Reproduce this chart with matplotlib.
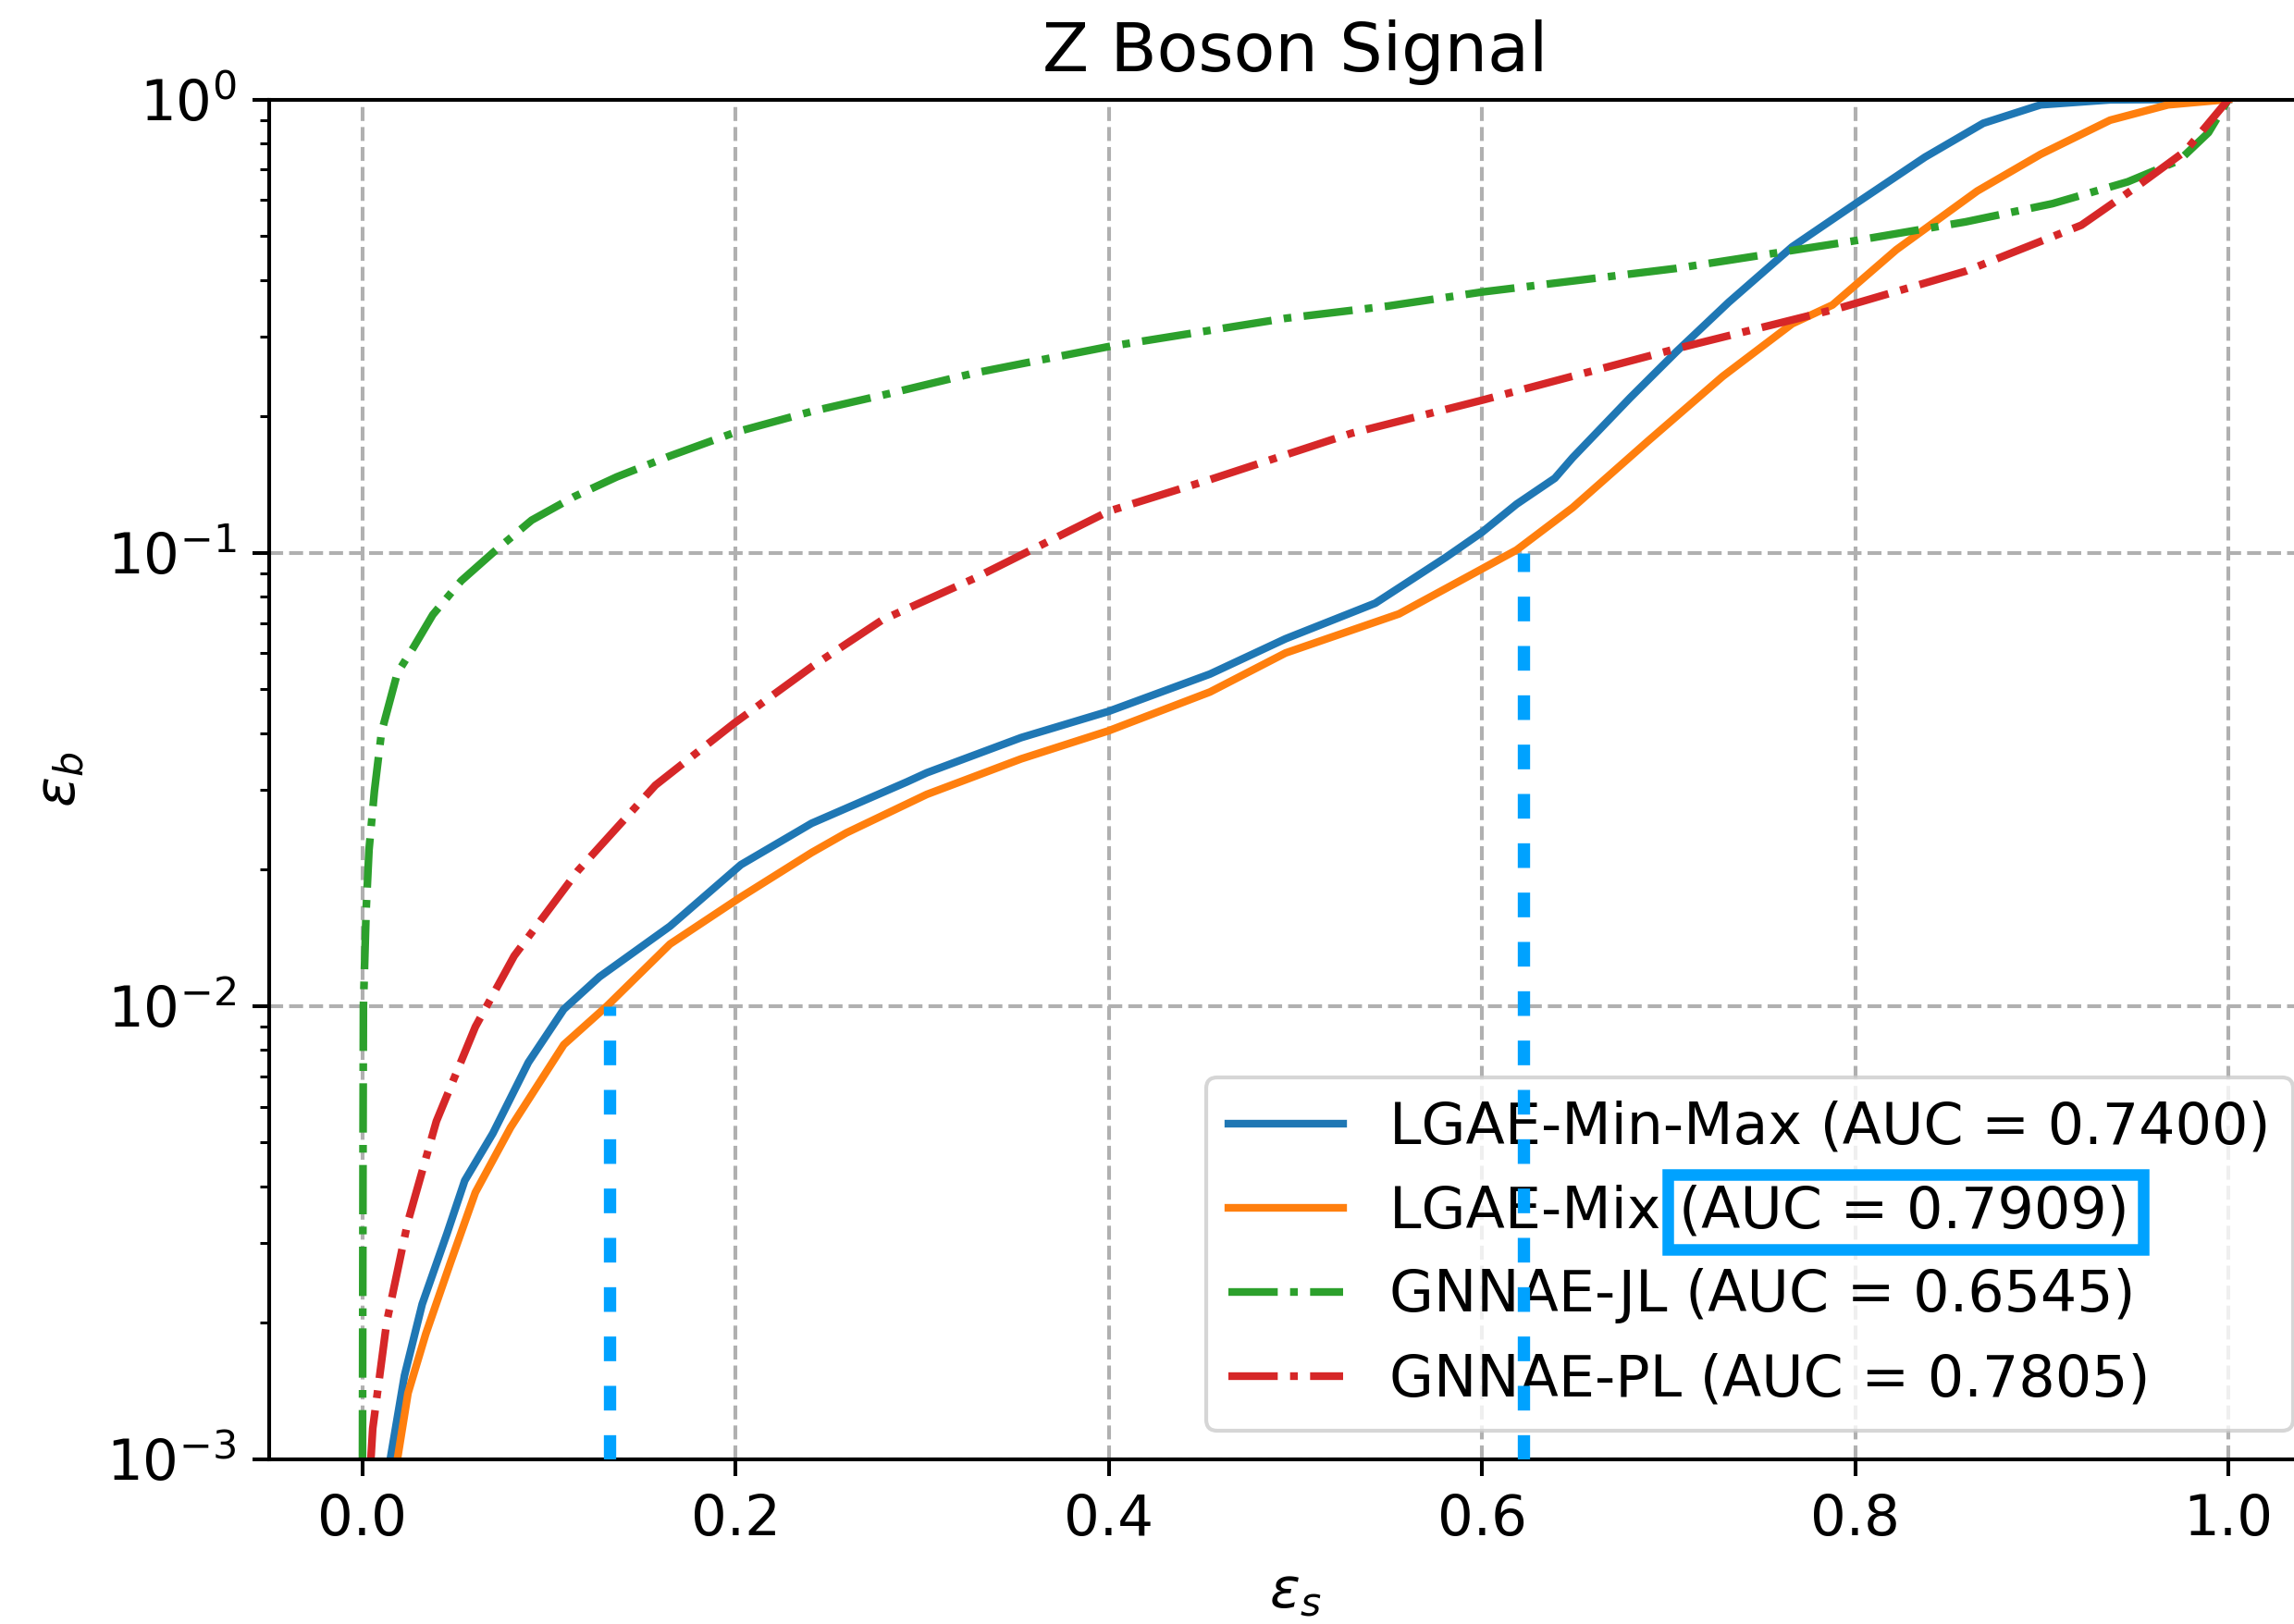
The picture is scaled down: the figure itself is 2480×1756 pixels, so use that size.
import matplotlib
matplotlib.use("Agg")
import matplotlib.pyplot as plt
from matplotlib.patches import Rectangle

# ---------------- data ----------------
minmax_x = [0.0149, 0.0225, 0.032, 0.0453, 0.0548, 0.0699, 0.0889, 0.1079, 0.127,
            0.1648, 0.2028, 0.2407, 0.2916, 0.3024, 0.353, 0.4, 0.4542, 0.4947,
            0.5428, 0.5806, 0.6, 0.6185, 0.639, 0.6485, 0.6795, 0.7043, 0.7322,
            0.7662, 0.8002, 0.8374, 0.8686, 0.8994, 0.9366, 0.97, 1.0]
minmax_y = [0.001, 0.00153, 0.0022, 0.00315, 0.00412, 0.00524, 0.00751, 0.00984, 0.0116,
            0.015, 0.0205, 0.0253, 0.0312, 0.0327, 0.0391, 0.0447, 0.054, 0.0646,
            0.0774, 0.0977, 0.111, 0.128, 0.146, 0.162, 0.22, 0.278, 0.357,
            0.473, 0.589, 0.746, 0.886, 0.973, 0.998, 1.0, 1.0]

mix_x = [0.0187, 0.0244, 0.0339, 0.0472, 0.0605, 0.0794, 0.1079, 0.131, 0.1648,
         0.2028, 0.2407, 0.2593, 0.3024, 0.353, 0.4, 0.4542, 0.4947, 0.5555,
         0.5904, 0.6185, 0.6485, 0.6887, 0.729, 0.7662, 0.7878, 0.822, 0.8654,
         0.8994, 0.9366, 0.9677, 1.0]
mix_y = [0.001, 0.0014, 0.00189, 0.00272, 0.00388, 0.0054, 0.00822, 0.01, 0.0137,
         0.0174, 0.0218, 0.0241, 0.0293, 0.0351, 0.0405, 0.0493, 0.0601, 0.0733,
         0.0877, 0.1014, 0.1257, 0.176, 0.245, 0.32, 0.352, 0.466, 0.628,
         0.757, 0.9, 0.973, 1.0]

jl_x = [0.0, 0.0003, 0.0005, 0.002, 0.0035, 0.0064, 0.0102, 0.0187, 0.0273, 0.0377,
        0.0529, 0.0699, 0.0907, 0.1135, 0.1363, 0.1648, 0.2, 0.2407, 0.2824,
        0.3277, 0.4, 0.4947, 0.5493, 0.6, 0.7043, 0.8, 0.8592, 0.9057, 0.946,
        0.9737, 0.9893, 1.0]
jl_y = [0.001, 0.005, 0.01, 0.0164, 0.0221, 0.0298, 0.0402, 0.0543, 0.0618, 0.073,
        0.0867, 0.1, 0.118, 0.133, 0.147, 0.1635, 0.1845, 0.205, 0.2245,
        0.249, 0.285, 0.329, 0.35, 0.376, 0.424, 0.488, 0.537, 0.589, 0.658,
        0.734, 0.845, 1.0]

pl_x = [0.0045, 0.0055, 0.013, 0.0243, 0.0396, 0.0605, 0.0813, 0.1155, 0.157,
        0.199, 0.2407, 0.2786, 0.3277, 0.4, 0.4542, 0.5299, 0.6, 0.7043, 0.791,
        0.8592, 0.9212, 0.9522, 0.977, 1.0]
pl_y = [0.001, 0.00117, 0.00201, 0.00334, 0.00557, 0.009, 0.0129, 0.0199, 0.0307,
        0.042, 0.056, 0.0711, 0.0877, 0.1235, 0.145, 0.1834, 0.217, 0.282, 0.346,
        0.418, 0.528, 0.648, 0.77, 1.0]

labels = ["LGAE-Min-Max (AUC = 0.7400)", "LGAE-Mix (AUC = 0.7909)",
          "GNNAE-JL (AUC = 0.6545)", "GNNAE-PL (AUC = 0.7805)"]

# working points marked with vertical lines (signal eff., background eff.)
mark_x = [0.1325, 0.622]
mark_y = [0.01, 0.1]

# ---------------- style ----------------
s = 1.2226
plt.rcParams.update({
    "font.size": 12 * s,
    "axes.titlesize": 14.4 * s,
    "axes.labelsize": 12 * s,
    "legend.fontsize": 12.15 * s,
    "xtick.labelsize": 12 * s,
    "ytick.labelsize": 12 * s,
    "axes.linewidth": 0.8 * s,
    "xtick.major.size": 3.5 * s, "ytick.major.size": 3.5 * s,
    "xtick.minor.size": 2 * s, "ytick.minor.size": 2 * s,
    "xtick.major.width": 0.8 * s, "ytick.major.width": 0.8 * s,
    "xtick.minor.width": 0.6 * s, "ytick.minor.width": 0.6 * s,
    "xtick.major.pad": 3.5 * s, "ytick.major.pad": 3.5 * s,
    "grid.linewidth": 0.8 * s,
    "axes.labelpad": 4 * s,
    "axes.titlepad": 6 * s,
})

W, H = 2480, 1756
fig = plt.figure(figsize=(W / 300, H / 300), dpi=300)
ax = fig.add_axes([291 / W, 1 - 1578 / H, 2219 / W, (1578 - 107.5) / H])

lw = 2.0
ax.plot(minmax_x, minmax_y, color="C0", lw=lw, label=labels[0])
ax.plot(mix_x, mix_y, color="C1", lw=lw, label=labels[1])
ax.plot(jl_x, jl_y, color="C2", lw=lw, ls="-.", label=labels[2])
ax.plot(pl_x, pl_y, color="C3", lw=lw, ls="-.", label=labels[3])

ax.set_yscale("log")
ax.set_ylim(1e-3, 1)
ax.set_xlim(-0.05, 1.05)
ax.grid(True, which="major", linestyle="--")
ax.set_title("Z Boson Signal")
ax.set_xlabel(r"$\epsilon_s$")
ax.set_ylabel(r"$\epsilon_b$")

leg = ax.legend(loc="lower right")

hl = "#00a2ff"
for mx, my in zip(mark_x, mark_y):
    ax.plot([mx, mx], [1e-3, my], color=hl, lw=3.2, ls=(0, (2, 2)), zorder=6)

box = Rectangle((1803 / W, 1 - 1351 / H), (2317 - 1803) / W, (1351 - 1270) / H,
                transform=fig.transFigure, fill=False, edgecolor=hl, lw=3.0,
                zorder=10, clip_on=False)
fig.add_artist(box)

fig.savefig("out.png", dpi=300)
